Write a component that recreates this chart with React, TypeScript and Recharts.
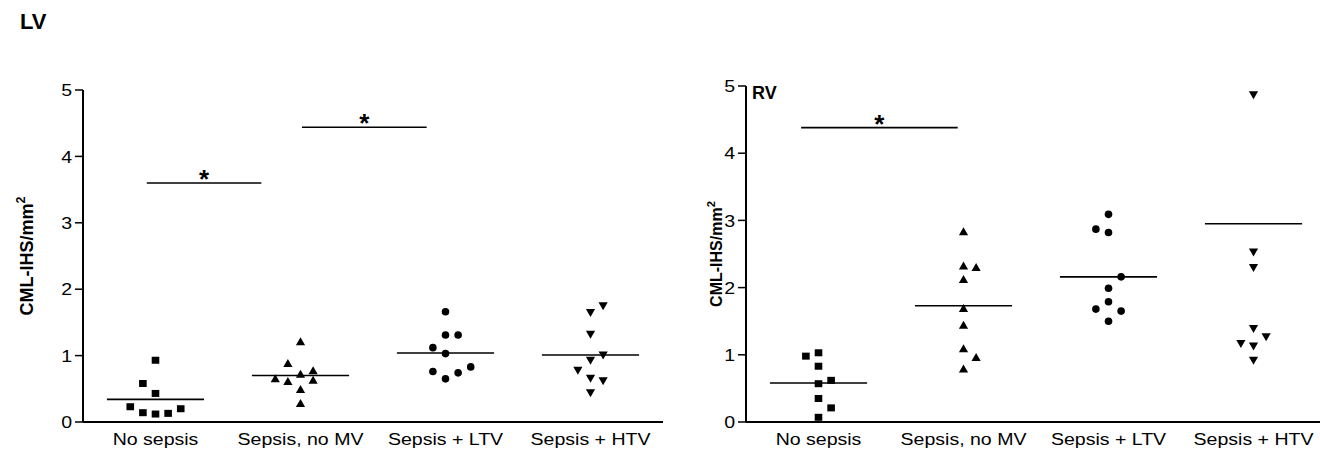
import { ReferenceLine, Scatter, ScatterChart, XAxis, YAxis } from "recharts";

const categories = ["No sepsis", "Sepsis, no MV", "Sepsis + LTV", "Sepsis + HTV"];
const yTicks = [0, 1, 2, 3, 4, 5];

// LV values (CML-IHS/mm²) and jitter columns, per group
const lvNoSepsis = [0.93, 0.58, 0.43, 0.23, 0.14, 0.12, 0.13, 0.2];
const lvNoSepsisCol = [0, -1, 0, -2, -1, 0, 1, 2];
const lvNoMV = [1.21, 0.88, 0.65, 0.61, 0.72, 0.77, 0.63, 0.49, 0.28];
const lvNoMVCol = [0, -1, -2, -1, 0, 1, 1, 0, 0];
const lvLTV = [1.66, 1.31, 1.31, 1.12, 1.03, 0.83, 0.76, 0.74, 0.65];
const lvLTVCol = [0, 0, 1, -1, 0, 2, -1, 1, 0];
const lvHTV = [1.75, 1.65, 1.32, 1.01, 0.93, 0.78, 0.66, 0.62, 0.44];
const lvHTVCol = [1, 0, 0, 1, 0, -1, 0, 1, 0];
const lvMeans = [0.34, 0.7, 1.04, 1.01];
// significance brackets: [from, to, height]
const lvBrackets = [
  [0.44, 1.23, 3.6],
  [1.51, 2.37, 4.44],
];

// RV
const rvNoSepsis = [0.98, 1.03, 0.83, 0.62, 0.57, 0.35, 0.21, 0.07];
const rvNoSepsisCol = [-1, 0, 0, 1, 0, 0, 1, 0];
const rvNoMV = [2.83, 2.32, 2.3, 2.12, 1.69, 1.44, 1.09, 0.96, 0.79];
const rvNoMVCol = [0, 0, 1, 0, 0, 0, 0, 1, 0];
const rvLTV = [3.09, 2.87, 2.82, 2.16, 1.99, 1.79, 1.68, 1.65, 1.5];
const rvLTVCol = [0, -1, 0, 1, 0, 0, -1, 1, 0];
const rvHTV = [4.87, 2.53, 2.3, 1.39, 1.27, 1.17, 1.13, 0.92];
const rvHTVCol = [0, 0, 0, 0, 1, -1, 0, 0];
const rvMeans = [0.58, 1.73, 2.16, 2.95];
const rvBrackets = [[0.38, 1.46, 4.38]];

const STEP = 0.087;
const FONT = "'Liberation Sans', Arial, sans-serif";
const SX = 1.15;

const pts = (group: number, vals: number[], cols: number[]) =>
  vals.map((v, i) => ({ x: group + 0.5 + cols[i] * STEP, y: v }));

const Square = (p: any) => (
  <rect x={p.cx - 3.8} y={p.cy - 3.5} width={7.6} height={7} fill="#000" />
);
const TriUp = (p: any) => (
  <polygon
    points={`${p.cx},${p.cy - 4.5} ${p.cx + 4.6},${p.cy + 3.5} ${p.cx - 4.6},${p.cy + 3.5}`}
    fill="#000"
  />
);
const Dot = (p: any) => <circle cx={p.cx} cy={p.cy} r={3.8} fill="#000" />;
const TriDown = (p: any) => (
  <polygon
    points={`${p.cx},${p.cy + 4.5} ${p.cx + 4.6},${p.cy - 3.5} ${p.cx - 4.6},${p.cy - 3.5}`}
    fill="#000"
  />
);
const shapes = [Square, TriUp, Dot, TriDown];

const YTick = ({ x, y, payload }: any) => (
  <text
    transform={`translate(${x},${y}) scale(${SX},1)`}
    textAnchor="end"
    dy="0.36em"
    fontSize={17}
    fontFamily={FONT}
    fill="#000"
  >
    {payload.value}
  </text>
);

const XTick = ({ x, y, payload }: any) => (
  <text
    transform={`translate(${x},${y}) scale(${SX},1)`}
    textAnchor="middle"
    dy="0.71em"
    fontSize={17}
    fontFamily={FONT}
    fill="#000"
  >
    {categories[Math.round(payload.value - 0.5)]}
  </text>
);

const Star = ({ viewBox }: any) => (
  <text
    x={viewBox.x + viewBox.width / 2}
    y={viewBox.y + 5}
    textAnchor="middle"
    fontSize={26}
    fontWeight="bold"
    fontFamily={FONT}
    fill="#000"
  >
    *
  </text>
);

function Panel({
  groups,
  means,
  brackets,
  left,
  top,
  labelSize,
  labelX,
}: {
  groups: { x: number; y: number }[][];
  means: number[];
  brackets: number[][];
  left: number;
  top: number;
  labelSize: number;
  labelX: number;
}) {
  const plotH = 422 - top;
  return (
    <div style={{ position: "absolute", left: 0, top: 0 }}>
      <ScatterChart
        width={left + 580 + 10}
        height={451}
        margin={{ top, right: 10, bottom: 0, left: left - 60 }}
      >
        <XAxis
          type="number"
          dataKey="x"
          domain={[0, 4]}
          ticks={[0.5, 1.5, 2.5, 3.5]}
          tick={<XTick />}
          tickLine={false}
          tickSize={0}
          tickMargin={11}
          height={29}
          axisLine={{ stroke: "#000", strokeWidth: 2 }}
        />
        <YAxis
          type="number"
          dataKey="y"
          domain={[0, 5]}
          ticks={yTicks}
          tick={<YTick />}
          tickSize={8}
          tickMargin={3}
          width={60}
          tickLine={{ stroke: "#000", strokeWidth: 1.5 }}
          axisLine={{ stroke: "#000", strokeWidth: 2 }}
          label={() => {
            const cy = top + plotH / 2;
            return (
              <text
                transform={`translate(${labelX},${cy}) rotate(-90)`}
                textAnchor="middle"
                fontSize={labelSize}
                fontWeight="bold"
                fontFamily={FONT}
                fill="#000"
              >
                CML-IHS/mm
                <tspan dy={-labelSize * 0.45} fontSize={labelSize * 0.7}>
                  2
                </tspan>
              </text>
            );
          }}
        />
        {groups.map((g, i) => (
          <Scatter
            key={categories[i]}
            data={g}
            shape={shapes[i]}
            isAnimationActive={false}
          />
        ))}
        {means.map((m, i) => (
          <ReferenceLine
            key={"m" + i}
            segment={[
              { x: i + 0.5 - 0.335, y: m },
              { x: i + 0.5 + 0.335, y: m },
            ]}
            stroke="#000"
            strokeWidth={1.6}
          />
        ))}
        {brackets.map((b, i) => (
          <ReferenceLine
            key={"b" + i}
            segment={[
              { x: b[0], y: b[2] },
              { x: b[1], y: b[2] },
            ]}
            stroke="#000"
            strokeWidth={1.6}
            label={<Star />}
          />
        ))}
      </ScatterChart>
    </div>
  );
}

export default function App() {
  const lv = [
    pts(0, lvNoSepsis, lvNoSepsisCol),
    pts(1, lvNoMV, lvNoMVCol),
    pts(2, lvLTV, lvLTVCol),
    pts(3, lvHTV, lvHTVCol),
  ];
  const rv = [
    pts(0, rvNoSepsis, rvNoSepsisCol),
    pts(1, rvNoMV, rvNoMVCol),
    pts(2, rvLTV, rvLTVCol),
    pts(3, rvHTV, rvHTVCol),
  ];
  return (
    <div
      style={{
        position: "relative",
        width: 1320,
        height: 451,
        overflow: "hidden",
        background: "#fff",
        fontFamily: FONT,
      }}
    >
      <style>{`body{margin:0;overflow:hidden}`}</style>
      <div
        style={{
          position: "absolute",
          left: 20,
          top: 9,
          fontSize: 22,
          fontWeight: "bold",
        }}
      >
        LV
      </div>
      <div style={{ position: "absolute", left: 0, top: 0 }}>
        <Panel
          groups={lv}
          means={lvMeans}
          brackets={lvBrackets}
          left={83}
          top={90}
          labelSize={18}
          labelX={33}
        />
      </div>
      <div style={{ position: "absolute", left: 663, top: 0 }}>
        <Panel
          groups={rv}
          means={rvMeans}
          brackets={rvBrackets}
          left={83}
          top={86}
          labelSize={16}
          labelX={59}
        />
      </div>
      <div
        style={{
          position: "absolute",
          left: 752,
          top: 83,
          fontSize: 18,
          fontWeight: "bold",
        }}
      >
        RV
      </div>
    </div>
  );
}
